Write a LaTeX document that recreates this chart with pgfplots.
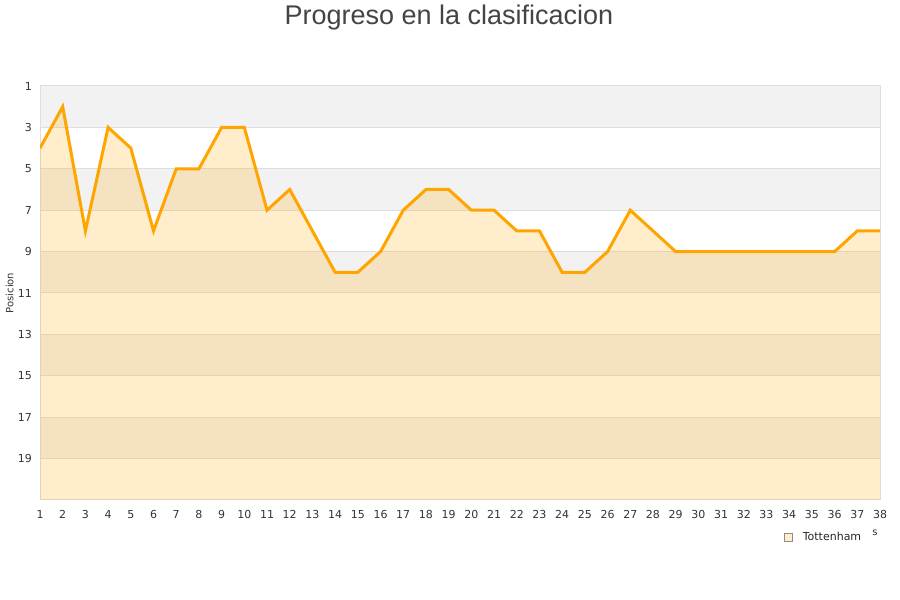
\documentclass[border=0pt]{standalone}
\usepackage{fontspec}
\setmainfont{DejaVu Sans}
\newfontfamily\titlefont{Liberation Sans}
\usepackage{pgfplots}
\usepackage{pgfplotstable}
\pgfplotsset{compat=1.18}
\usepgfplotslibrary{fillbetween}

\definecolor{lineorange}{HTML}{FFA500}
\definecolor{bandgray}{HTML}{F2F2F2}
\definecolor{gridgray}{HTML}{DEDEDE}
\definecolor{textgray}{HTML}{333333}
\definecolor{titlegray}{HTML}{444444}

% jornada, posicion
\pgfplotstableread{
j pos
1 4
2 2
3 8
4 3
5 4
6 8
7 5
8 5
9 3
10 3
11 7
12 6
13 8
14 10
15 10
16 9
17 7
18 6
19 6
20 7
21 7
22 8
23 8
24 10
25 10
26 9
27 7
28 8
29 9
30 9
31 9
32 9
33 9
34 9
35 9
36 9
37 8
38 8
}\tottenham

\pgfplotsset{band/.style={fill=bandgray, draw=none, on layer=axis background, forget plot}}

\begin{document}
\begin{tikzpicture}
\begin{axis}[
    set layers,
    at={(40pt,100pt)}, anchor=south west,
    width=840pt, height=414pt, scale only axis,
    xmin=1, xmax=38, ymin=1, ymax=21,
    y dir=reverse,
    xtick={1,...,38},
    ytick={1,3,...,19},
    ymajorgrids,
    grid style={gridgray, line width=1pt},
    axis line style={draw=gridgray, line width=1pt},
    major tick length=0pt,
    tick label style={font=\fontsize{11}{13}\selectfont, text=textgray},
    /pgf/number format/assume math mode=true,
    yticklabel style={inner sep=0pt, xshift=-8pt},
    xticklabel style={inner sep=0pt, yshift=-10pt},
    ylabel={Posicion},
    ylabel style={at={(axis description cs:-0.036,0.5)}, anchor=center, font=\fontsize{10}{12}\selectfont, text=textgray},
    legend style={at={(axis description cs:0.8855,-0.0894)}, anchor=west, draw=none, fill=none,
        font=\fontsize{11}{13}\selectfont, text=black!85, inner sep=0pt},
]
\addplot[band] coordinates {(1,1) (38,1) (38,3) (1,3)} -- cycle;
\addplot[band] coordinates {(1,5) (38,5) (38,7) (1,7)} -- cycle;
\addplot[band] coordinates {(1,9) (38,9) (38,11) (1,11)} -- cycle;
\addplot[band] coordinates {(1,13) (38,13) (38,15) (1,15)} -- cycle;
\addplot[band] coordinates {(1,17) (38,17) (38,19) (1,19)} -- cycle;
\addplot[name path=pos, draw=lineorange, line width=3pt, forget plot] table[x=j, y=pos] {\tottenham};
\addplot[name path=base, draw=none, forget plot] coordinates {(1,21) (38,21)};
\addplot[fill=lineorange, fill opacity=0.2, draw=none, forget plot] fill between[of=pos and base];
\addlegendimage{legend image code/.code={\draw[draw=black!45, fill=lineorange!20, line width=0.8pt] (0pt,-4pt) rectangle (8pt,4pt);}}
\addlegendentry{\hspace{8pt}Tottenham}
\end{axis}
\node[font=\titlefont\fontsize{27}{30}\selectfont, text=titlegray, anchor=base] at (449pt,575pt) {Progreso en la clasificacion};
\node[font=\fontsize{10}{12}\selectfont, text=textgray] at (875pt,67pt) {s};
\pgfresetboundingbox
\useasboundingbox (0pt,0pt) rectangle (900pt,600pt);
\end{tikzpicture}
\end{document}
